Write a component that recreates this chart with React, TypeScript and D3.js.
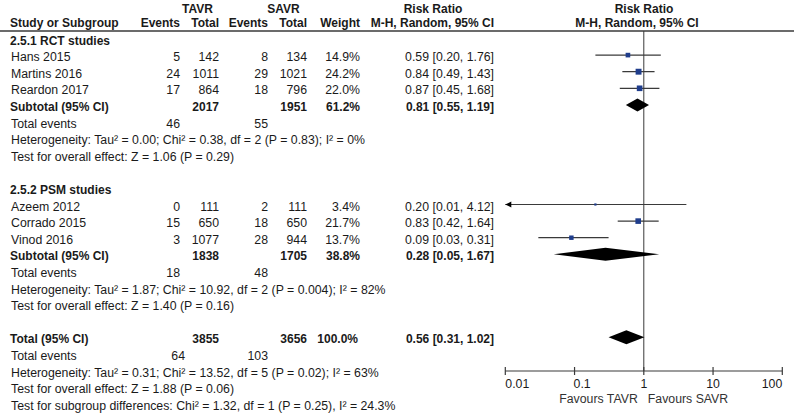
import React from "react";
import * as d3 from "d3";

// ---------- data ----------
const groupNames = ["2.5.1 RCT studies", "2.5.2 PSM studies"];
const studyNames = ["Hans 2015", "Martins 2016", "Reardon 2017", "Azeem 2012", "Corrado 2015", "Vinod 2016"];
const studyGroup = [0, 0, 0, 1, 1, 1];
const tavrEvents = [5, 24, 17, 0, 15, 3];
const tavrTotal = [142, 1011, 864, 111, 650, 1077];
const savrEvents = [8, 29, 18, 2, 18, 28];
const savrTotal = [134, 1021, 796, 111, 650, 944];
const weights = [14.9, 24.2, 22.0, 3.4, 21.7, 13.7];
const rr = [0.59, 0.84, 0.87, 0.2, 0.83, 0.09];
const rrLo = [0.2, 0.49, 0.45, 0.01, 0.42, 0.03];
const rrHi = [1.76, 1.43, 1.68, 4.12, 1.64, 0.31];

const subTavrTotal = [2017, 1838];
const subSavrTotal = [1951, 1705];
const subWeight = [61.2, 38.8];
const subRR = [0.81, 0.28];
const subLo = [0.55, 0.05];
const subHi = [1.19, 1.67];
const subTavrEvents = [46, 18];
const subSavrEvents = [55, 48];
const subHetero = [
  "Heterogeneity: Tau² = 0.00; Chi² = 0.38, df = 2 (P = 0.83); I² = 0%",
  "Heterogeneity: Tau² = 1.87; Chi² = 10.92, df = 2 (P = 0.004); I² = 82%",
];
const subEffect = [
  "Test for overall effect: Z = 1.06 (P = 0.29)",
  "Test for overall effect: Z = 1.40 (P = 0.16)",
];

const totTavrTotal = 3855;
const totSavrTotal = 3656;
const totWeight = 100.0;
const totRR = 0.56;
const totLo = 0.31;
const totHi = 1.02;
const totTavrEvents = 64;
const totSavrEvents = 103;
const totHetero = "Heterogeneity: Tau² = 0.31; Chi² = 13.52, df = 5 (P = 0.02); I² = 63%";
const totEffect = "Test for overall effect: Z = 1.88 (P = 0.06)";
const subgroupDiff = "Test for subgroup differences: Chi² = 1.32, df = 1 (P = 0.25), I² = 24.3%";

const axisTicks = [0.01, 0.1, 1, 10, 100];
const axisTickLabels = ["0.01", "0.1", "1", "10", "100"];
const favoursLeft = "Favours TAVR";
const favoursRight = "Favours SAVR";

// ---------- layout ----------
const W = 794;
const H = 413;
const FONT = "'Liberation Sans', Arial, Helvetica, sans-serif";
const TEXT = "#1a1a1a";
const LINE = "#3a3a3a";
const SQUARE = "#1f3d8c";
const FS = 12.3;
const FSB = 12;

const x = d3.scaleLog().domain([0.01, 100]).range([505.3, 782.3]);
const rowY = (i: number) => 38.5 + i * 16.6;
const AXIS_Y = 371;
const HEADER_LINE_Y = 31;

const colX = {
  name: 11,
  tEv: 180,
  tTot: 219,
  sEv: 268,
  sTot: 307,
  weight: 360,
  ci: 494,
};

const fmt2 = d3.format(".2f");
const fmtW = (w: number) => d3.format(".1f")(w) + "%";
const ciText = (m: number, l: number, h: number) => `${fmt2(m)} [${fmt2(l)}, ${fmt2(h)}]`;

type Row =
  | { kind: "group"; g: number; i: number }
  | { kind: "study"; s: number; i: number }
  | { kind: "subtotal"; g: number; i: number }
  | { kind: "subevents"; g: number; i: number }
  | { kind: "text"; t: string; i: number }
  | { kind: "total"; i: number }
  | { kind: "totevents"; i: number };

function buildRows(): Row[] {
  const rows: Row[] = [];
  let i = 0;
  groupNames.forEach((_, g) => {
    rows.push({ kind: "group", g, i: i++ });
    studyNames.forEach((_, s) => {
      if (studyGroup[s] === g) rows.push({ kind: "study", s, i: i++ });
    });
    rows.push({ kind: "subtotal", g, i: i++ });
    rows.push({ kind: "subevents", g, i: i++ });
    rows.push({ kind: "text", t: subHetero[g], i: i++ });
    rows.push({ kind: "text", t: subEffect[g], i: i++ });
    i++; // blank row
  });
  rows.push({ kind: "total", i: i++ });
  rows.push({ kind: "totevents", i: i++ });
  rows.push({ kind: "text", t: totHetero, i: i++ });
  rows.push({ kind: "text", t: totEffect, i: i++ });
  rows.push({ kind: "text", t: subgroupDiff, i: i++ });
  return rows;
}

function Diamond({ m, l, h, y, hh }: { m: number; l: number; h: number; y: number; hh: number }) {
  const pts = [
    [x(l), y],
    [x(m), y - hh],
    [x(h), y],
    [x(m), y + hh],
  ]
    .map((p) => p.join(","))
    .join(" ");
  return <polygon points={pts} fill="#000" />;
}

export default function App() {
  const rows = buildRows();
  const T = (props: any) => <text fill={TEXT} {...props} />;
  const base = (i: number) => rowY(i) + 6;

  return (
    <svg
      width={W}
      height={H}
      style={{ position: "absolute", left: 0, top: 0, display: "block" }}
      fontFamily={FONT}
      fontSize={FS}
    >
      <rect x={0} y={0} width={W} height={H} fill="#fff" />

      {/* header */}
      <g fontWeight="bold" fontSize={FSB}>
        <T x={(colX.tEv + colX.tTot) / 2 - 2} y={12.5} textAnchor="middle">TAVR</T>
        <T x={(colX.sEv + colX.sTot) / 2 - 4} y={12.5} textAnchor="middle">SAVR</T>
        <T x={433} y={12.5} textAnchor="middle">Risk Ratio</T>
        <T x={644} y={12.5} textAnchor="middle">Risk Ratio</T>
        <T x={colX.name - 1} y={26.5}>Study or Subgroup</T>
        <T x={colX.tEv} y={26.5} textAnchor="end">Events</T>
        <T x={colX.tTot} y={26.5} textAnchor="end">Total</T>
        <T x={colX.sEv} y={26.5} textAnchor="end">Events</T>
        <T x={colX.sTot} y={26.5} textAnchor="end">Total</T>
        <T x={colX.weight} y={26.5} textAnchor="end">Weight</T>
        <T x={colX.ci} y={26.5} textAnchor="end">M-H, Random, 95% CI</T>
        <T x={637} y={26.5} textAnchor="middle">M-H, Random, 95% CI</T>
      </g>
      <line x1={0} x2={W} y1={HEADER_LINE_Y} y2={HEADER_LINE_Y} stroke={LINE} strokeWidth={1.3} />

      {/* vertical line of no effect */}
      <line x1={x(1)} x2={x(1)} y1={HEADER_LINE_Y} y2={AXIS_Y} stroke={LINE} strokeWidth={1} />

      {/* rows */}
      {rows.map((r, k) => {
        const y = base(r.i);
        const cy = rowY(r.i);
        if (r.kind === "group") {
          return (
            <T key={k} x={colX.name - 1} y={y} fontWeight="bold" fontSize={FSB}>
              {groupNames[r.g]}
            </T>
          );
        }
        if (r.kind === "study") {
          const s = r.s;
          const side = 1.2 * Math.sqrt(weights[s]);
          const clippedLeft = rrLo[s] <= x.domain()[0];
          const lx = clippedLeft ? x(x.domain()[0]) : x(rrLo[s]);
          return (
            <g key={k}>
              <T x={colX.name} y={y}>{studyNames[s]}</T>
              <T x={colX.tEv} y={y} textAnchor="end">{tavrEvents[s]}</T>
              <T x={colX.tTot} y={y} textAnchor="end">{tavrTotal[s]}</T>
              <T x={colX.sEv} y={y} textAnchor="end">{savrEvents[s]}</T>
              <T x={colX.sTot} y={y} textAnchor="end">{savrTotal[s]}</T>
              <T x={colX.weight} y={y} textAnchor="end">{fmtW(weights[s])}</T>
              <T x={colX.ci} y={y} textAnchor="end">{ciText(rr[s], rrLo[s], rrHi[s])}</T>
              <line x1={lx} x2={x(rrHi[s])} y1={cy} y2={cy} stroke={LINE} strokeWidth={1.2} />
              {clippedLeft && (
                <polygon points={`${lx},${cy} ${lx + 6},${cy - 3} ${lx + 6},${cy + 3}`} fill="#000" />
              )}
              <rect x={x(rr[s]) - side / 2} y={cy - side / 2} width={side} height={side} fill={SQUARE} />
            </g>
          );
        }
        if (r.kind === "subtotal") {
          const g = r.g;
          return (
            <g key={k} fontWeight="bold" fontSize={FSB}>
              <T x={colX.name - 1} y={y}>Subtotal (95% CI)</T>
              <T x={colX.tTot} y={y} textAnchor="end">{subTavrTotal[g]}</T>
              <T x={colX.sTot} y={y} textAnchor="end">{subSavrTotal[g]}</T>
              <T x={colX.weight} y={y} textAnchor="end">{fmtW(subWeight[g])}</T>
              <T x={colX.ci} y={y} textAnchor="end">{ciText(subRR[g], subLo[g], subHi[g])}</T>
              <Diamond m={subRR[g]} l={subLo[g]} h={subHi[g]} y={cy} hh={6.5} />
            </g>
          );
        }
        if (r.kind === "subevents") {
          return (
            <g key={k}>
              <T x={colX.name} y={y}>Total events</T>
              <T x={colX.tEv} y={y} textAnchor="end">{subTavrEvents[r.g]}</T>
              <T x={colX.sEv} y={y} textAnchor="end">{subSavrEvents[r.g]}</T>
            </g>
          );
        }
        if (r.kind === "text") {
          return (
            <T key={k} x={colX.name} y={y}>
              {r.t}
            </T>
          );
        }
        if (r.kind === "total") {
          return (
            <g key={k} fontWeight="bold" fontSize={FSB}>
              <T x={colX.name - 1} y={y}>Total (95% CI)</T>
              <T x={colX.tTot} y={y} textAnchor="end">{totTavrTotal}</T>
              <T x={colX.sTot} y={y} textAnchor="end">{totSavrTotal}</T>
              <T x={colX.weight - 2} y={y} textAnchor="end">{fmtW(totWeight)}</T>
              <T x={colX.ci} y={y} textAnchor="end">{ciText(totRR, totLo, totHi)}</T>
              <Diamond m={totRR} l={totLo} h={totHi} y={cy} hh={7} />
            </g>
          );
        }
        if (r.kind === "totevents") {
          return (
            <g key={k}>
              <T x={colX.name} y={y}>Total events</T>
              <T x={colX.tEv + 5} y={y} textAnchor="end">{totTavrEvents}</T>
              <T x={colX.sEv} y={y} textAnchor="end">{totSavrEvents}</T>
            </g>
          );
        }
        return null;
      })}

      {/* axis */}
      <line x1={x(0.01)} x2={x(100)} y1={AXIS_Y} y2={AXIS_Y} stroke={LINE} strokeWidth={1.2} />
      {axisTicks.map((t, k) => {
        const anchor = k === 0 || k === 1 ? "start" : k === axisTicks.length - 1 ? "end" : "middle";
        const tx = k === 1 ? x(t) - 1 : x(t);
        return (
          <g key={k}>
            <line x1={x(t)} x2={x(t)} y1={AXIS_Y - 4} y2={AXIS_Y + 4} stroke={LINE} strokeWidth={1.2} />
            <T x={tx} y={AXIS_Y + 16.5} textAnchor={anchor}>{axisTickLabels[k]}</T>
          </g>
        );
      })}
      <T x={x(1) - 6} y={AXIS_Y + 32} textAnchor="end" fill="#333">{favoursLeft}</T>
      <T x={x(1) + 4} y={AXIS_Y + 32} textAnchor="start" fill="#333">{favoursRight}</T>
    </svg>
  );
}
